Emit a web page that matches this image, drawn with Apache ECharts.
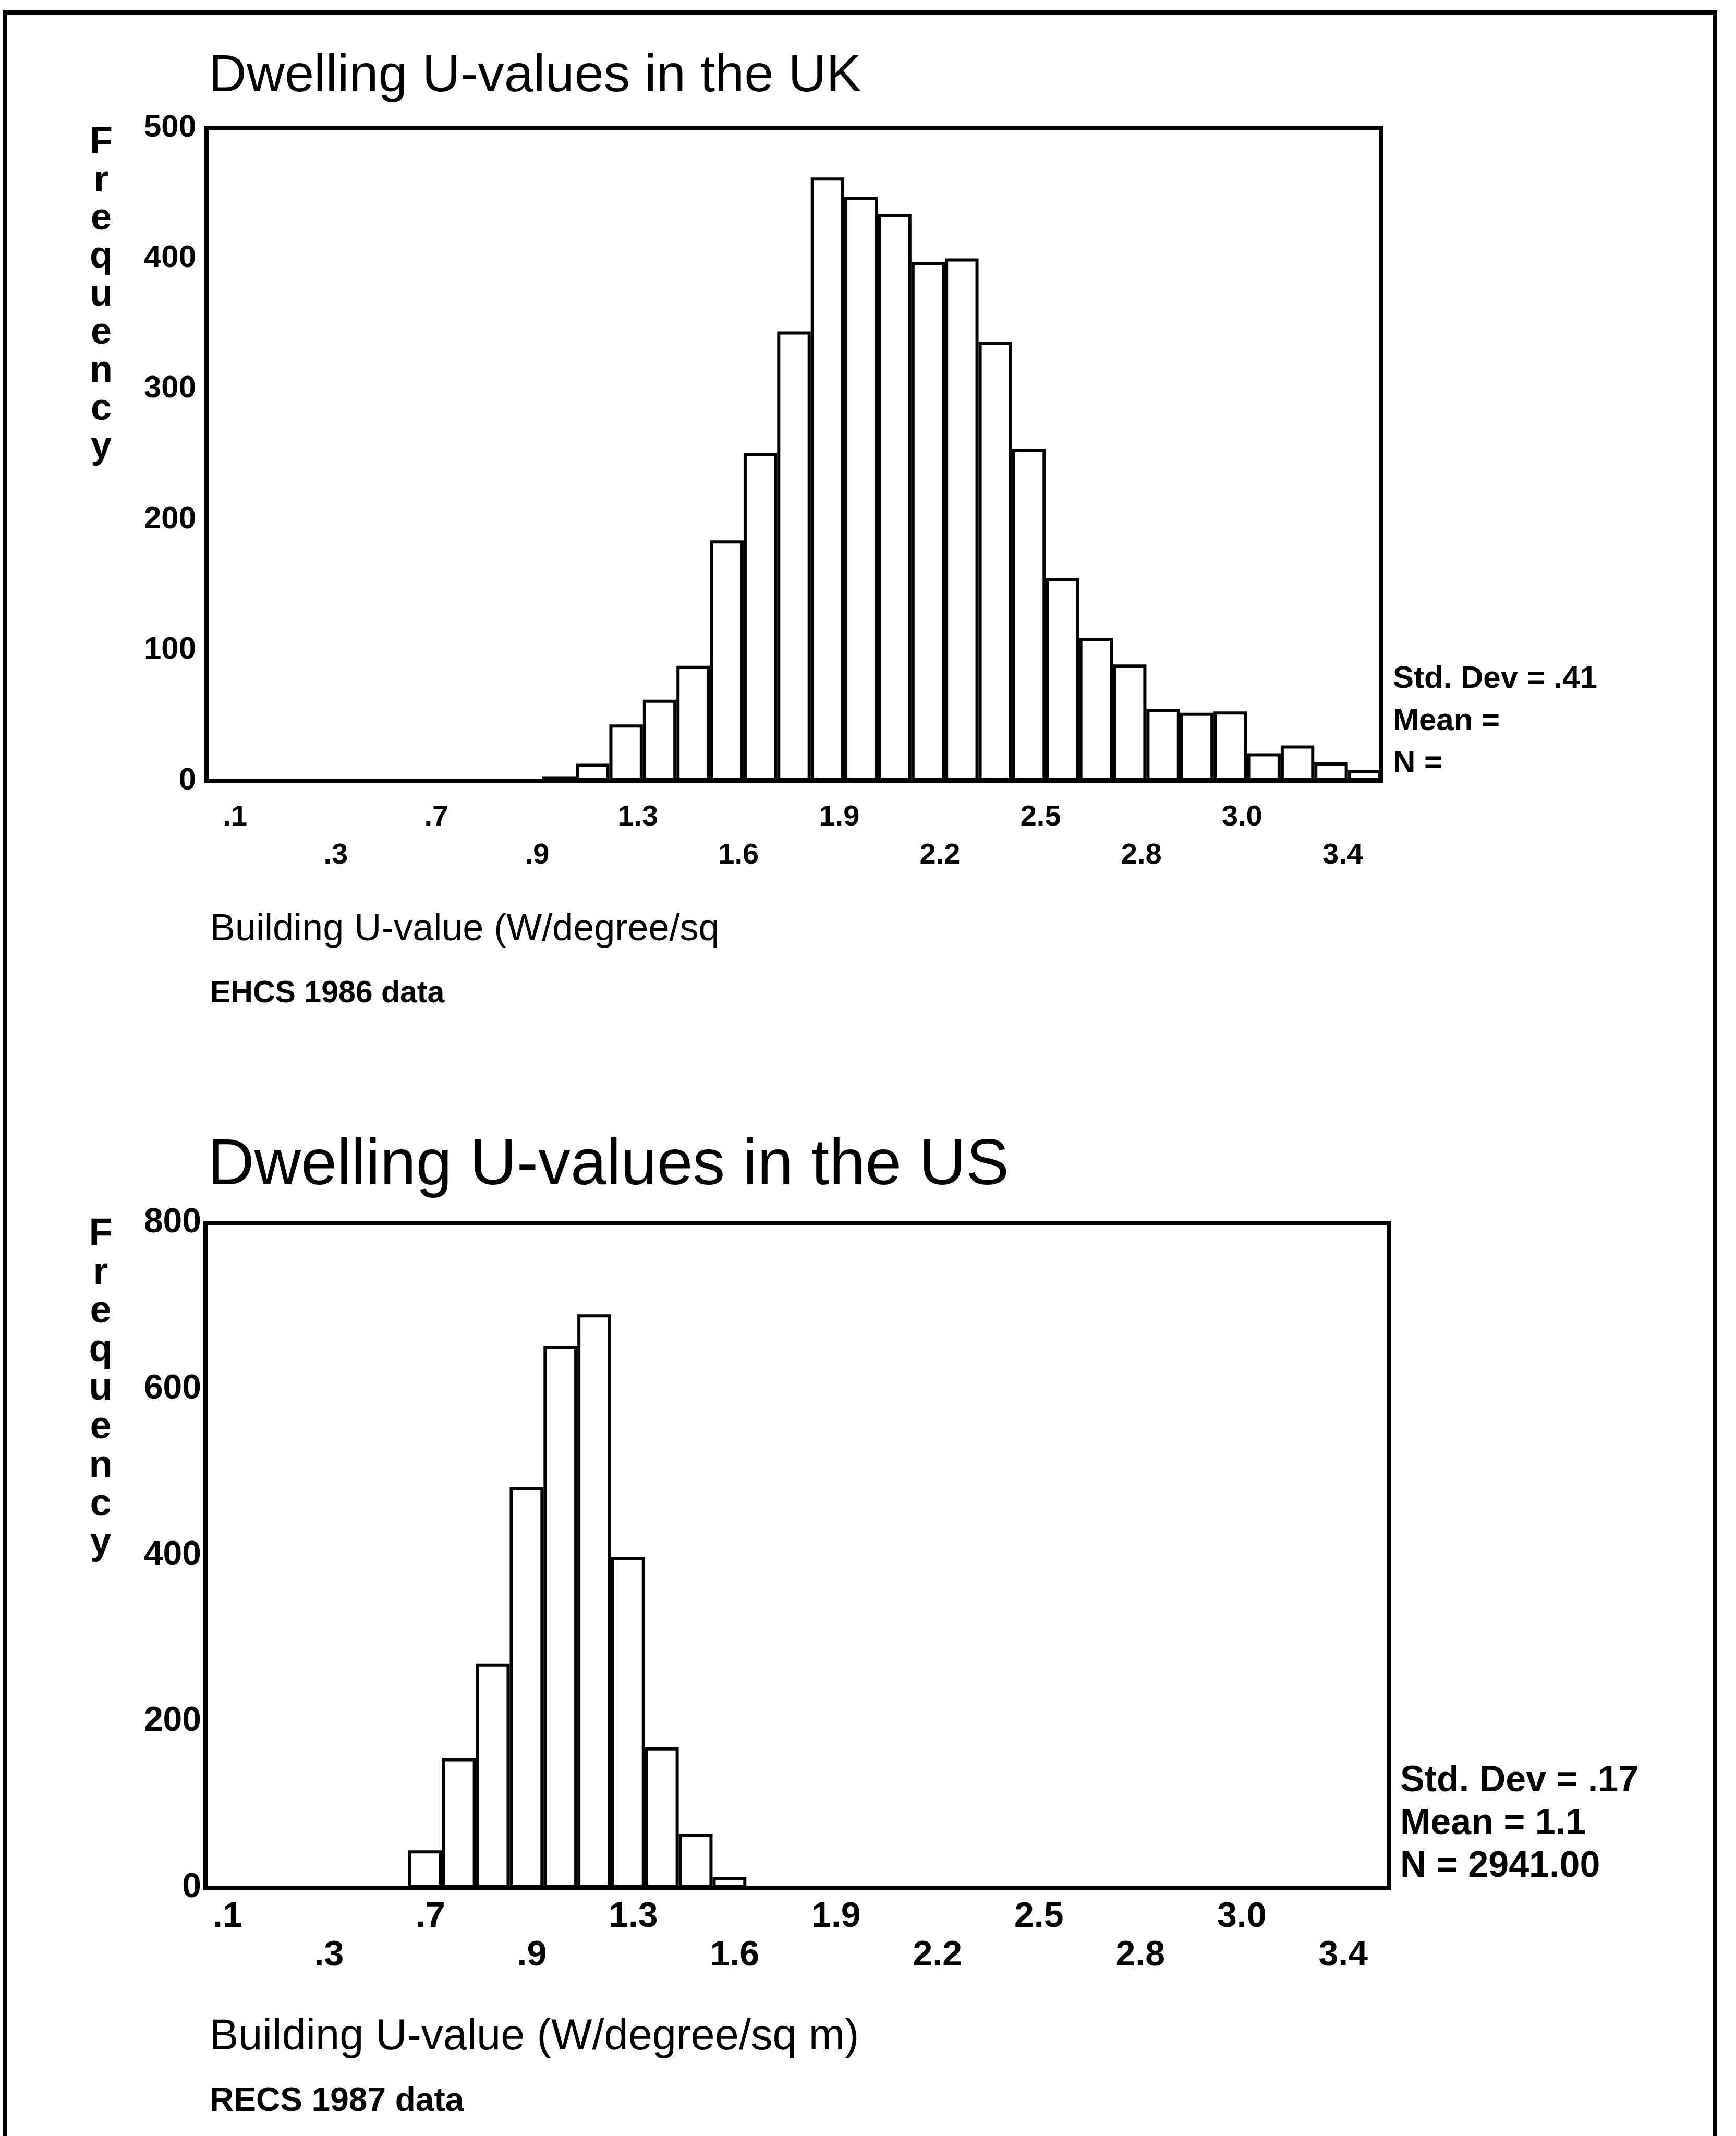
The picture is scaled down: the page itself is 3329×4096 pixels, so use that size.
<!DOCTYPE html>
<html>
<head>
<meta charset="utf-8">
<script src="https://cdn.jsdelivr.net/npm/echarts@6/dist/echarts.min.js"></script>
<style>
html,body{margin:0;padding:0;background:#fff;}
#chart{width:3329px;height:4096px;}
</style>
</head>
<body>
<div id="chart"></div>
<script>
// Bin midpoints (W/degree/sq m), bin width 0.1
const categories = ['0.1','0.2','0.3','0.4','0.5','0.6','0.7','0.8','0.9','1.0',
  '1.1','1.2','1.3','1.4','1.5','1.6','1.7','1.8','1.9','2.0',
  '2.1','2.2','2.3','2.4','2.5','2.6','2.7','2.8','2.9','3.0',
  '3.1','3.2','3.3','3.4','3.5'];
// UK (EHCS 1986) frequencies
const ukFreq = [0,0,0,0,0,0,0,0,0,0,
  3,13,43,62,88,184,251,344,462,447,
  434,397,400,336,254,155,109,89,55,52,
  53,21,27,14,8];
// US (RECS 1987) frequencies
const usFreq = [0,0,0,0,0,0,45,156,270,482,
  652,690,398,169,65,13,0,0,0,0,
  0,0,0,0,0,0,0,0,0,0,
  0,0,0,0,0];
// Tick labels as printed (every third bin)
const tickLabels = ['.1','.3','.7','.9','1.3','1.6','1.9','2.2','2.5','2.8','3.0','3.4'];
const ukYTicks = [0,100,200,300,400,500];
const usYTicks = [0,200,400,600,800];
const ukStats = ['Std. Dev = .41','Mean = ','N = '];
const usStats = ['Std. Dev = .17','Mean = 1.1','N = 2941.00'];

const FONT = 'Liberation Sans, Arial, sans-serif';
const chart = echarts.init(document.getElementById('chart'), null, {renderer:'canvas'});

function xLabelFmt(value, index){
  if (index % 3 !== 0) return '';
  const k = index / 3;
  return (k % 2 ? '\n' : '') + tickLabels[k];
}
function t(text, left, top, size, weight, lineHeight, extra){
  const ts = {fontFamily: FONT, fontSize: size, fontWeight: weight, color: '#000'};
  if (lineHeight) ts.lineHeight = lineHeight;
  return Object.assign({
    text: text, left: left, top: top, padding: 0, itemGap: 0, textStyle: ts
  }, extra || {});
}
const vert = s => s.split('').join('\n');

const option = {
  backgroundColor: '#fff',
  animation: false,
  title: [
    t('Dwelling U-values in the UK', 400, 97, 101, 'normal'),
    t('Dwelling U-values in the US', 398, 2175, 124, 'normal'),
    t(vert('Frequency'), 194, 238, 72, 'bold', 73, {textAlign: 'center'}),
    t(vert('Frequency'), 193, 2331, 74, 'bold', 74, {textAlign: 'center'}),
    t('Building U-value (W/degree/sq', 403, 1747, 72, 'normal'),
    t('EHCS 1986 data', 403, 1876, 59, 'bold'),
    t('Building U-value (W/degree/sq m)', 402, 3866, 83, 'normal'),
    t('RECS 1987 data', 402, 3998, 64, 'bold'),
    t(ukStats.join('\n'), 2671, 1262, 60, 'bold', 81),
    t(usStats.join('\n'), 2685, 3375, 70, 'bold', 82)
  ],
  graphic: [{
    type: 'rect', shape: {x: 10, y: 24, width: 3279, height: 4300},
    style: {fill: 'none', stroke: '#000', lineWidth: 8}, silent: true
  }],
  grid: [
    {left: 396, top: 245, width: 2253, height: 1252, show: true, borderColor: '#000', borderWidth: 8, backgroundColor: 'transparent'},
    {left: 394, top: 2345, width: 2269, height: 1275, show: true, borderColor: '#000', borderWidth: 8, backgroundColor: 'transparent'}
  ],
  xAxis: [
    {type: 'category', gridIndex: 0, data: categories, boundaryGap: true,
     axisLine: {show: false}, axisTick: {show: false},
     axisLabel: {interval: 2, formatter: xLabelFmt, fontFamily: FONT, fontSize: 56, fontWeight: 'bold',
       color: '#000', lineHeight: 73, margin: 34, padding: [0,0,0,45], hideOverlap: false}},
    {type: 'category', gridIndex: 1, data: categories, boundaryGap: true,
     axisLine: {show: false}, axisTick: {show: false},
     axisLabel: {interval: 2, formatter: xLabelFmt, fontFamily: FONT, fontSize: 68, fontWeight: 'bold',
       color: '#000', lineHeight: 74, margin: 19, padding: [0,0,0,20], hideOverlap: false}}
  ],
  yAxis: [
    {type: 'value', gridIndex: 0, min: ukYTicks[0], max: ukYTicks[ukYTicks.length-1], interval: 100,
     axisLine: {show: false}, axisTick: {show: false}, splitLine: {show: false},
     axisLabel: {fontFamily: FONT, fontSize: 60, fontWeight: 'bold', color: '#000', margin: 20}},
    {type: 'value', gridIndex: 1, min: usYTicks[0], max: usYTicks[usYTicks.length-1], interval: 200,
     axisLine: {show: false}, axisTick: {show: false}, splitLine: {show: false},
     axisLabel: {fontFamily: FONT, fontSize: 66, fontWeight: 'bold', color: '#000', margin: 8}}
  ],
  series: [
    {type: 'bar', xAxisIndex: 0, yAxisIndex: 0, data: ukFreq, barCategoryGap: '0%',
     itemStyle: {color: '#fff', borderColor: '#000', borderWidth: 6}},
    {type: 'bar', xAxisIndex: 1, yAxisIndex: 1, data: usFreq, barCategoryGap: '0%',
     itemStyle: {color: '#fff', borderColor: '#000', borderWidth: 6}}
  ]
};
chart.setOption(option);
</script>
</body>
</html>
